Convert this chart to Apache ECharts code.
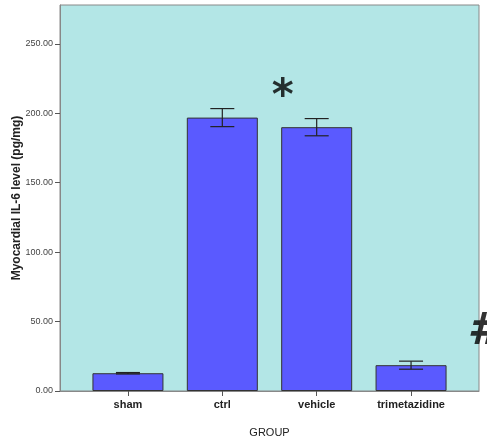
<!DOCTYPE html>
<html><head><meta charset="utf-8">
<script src="https://cdn.jsdelivr.net/npm/echarts@6/dist/echarts.min.js"></script>
<style>html,body{margin:0;padding:0;background:#fff}#c{width:487px;height:443px}</style>
</head><body><div id="c"></div>
<script>
const categories = ['sham', 'ctrl', 'vehicle', 'trimetazidine'];
const means = [12.8, 196.9, 190.0, 18.6];
const errors = [0.5, 6.5, 6.2, 2.9];
const yTicks = [0, 50, 100, 150, 200, 250];
const marks = [
  {text: '*', x: 1.64, y: 211, size: 42, weight: 'bold', style: 'normal'},
  {text: '#', x: 3.76, y: 42, size: 44, weight: 'bold', style: 'italic'}
];

const catIdx = categories.map((c, i) => i);
const chart = echarts.init(document.getElementById('c'));
chart.setOption({
  animation: false,
  grid: {left: 60, right: 8, top: 5, bottom: 52, containLabel: false, outerBoundsMode: 'none', show: true, backgroundColor: '#b3e6e6', borderColor: '#888', borderWidth: 1},
  xAxis: {
    type: 'value', min: -0.72, max: 3.72,
    name: 'GROUP', nameLocation: 'middle', nameGap: 36, nameMoveOverlap: false,
    nameTextStyle: {fontFamily: 'Liberation Sans, Arial', fontSize: 11, color: '#222'},
    splitLine: {show: false},
    axisLine: {show: true, onZero: false, lineStyle: {color: '#888'}},
    axisTick: {show: true, customValues: catIdx, length: 5, lineStyle: {color: '#555'}},
    axisLabel: {customValues: catIdx, formatter: v => categories[Math.round(v)] || '', fontFamily: 'Liberation Sans, Arial', fontWeight: 'bold', fontSize: 11, color: '#222', margin: 8}
  },
  yAxis: {
    type: 'value', min: 0, max: 278,
    name: 'Myocardial IL-6 level (pg/mg)', nameLocation: 'middle', nameGap: 37, nameMoveOverlap: false,
    nameTextStyle: {fontFamily: 'Liberation Sans, Arial', fontWeight: 'bold', fontSize: 12, color: '#222'},
    splitLine: {show: false},
    axisLine: {show: true, onZero: false, lineStyle: {color: '#888'}},
    axisTick: {show: true, customValues: yTicks, length: 5, lineStyle: {color: '#555'}},
    axisLabel: {customValues: yTicks, formatter: v => v.toFixed(2), fontFamily: 'Liberation Sans, Arial', fontSize: 9, color: '#444', margin: 7}
  },
  series: [
    {
      type: 'bar', barWidth: 71,
      data: means.map((m, i) => [i, m]),
      itemStyle: {color: '#5a5aff', borderColor: '#333', borderWidth: 1}
    },
    {
      type: 'custom',
      data: means.map((m, i) => [i, m - errors[i], m + errors[i]]),
      renderItem: (params, api) => {
        const lo = api.coord([api.value(0), api.value(1)]);
        const hi = api.coord([api.value(0), api.value(2)]);
        const hw = 12;
        const st = {stroke: '#222', lineWidth: 1.2};
        return {type: 'group', children: [
          {type: 'line', shape: {x1: lo[0], y1: lo[1], x2: hi[0], y2: hi[1]}, style: st},
          {type: 'line', shape: {x1: lo[0]-hw, y1: lo[1], x2: lo[0]+hw, y2: lo[1]}, style: st},
          {type: 'line', shape: {x1: hi[0]-hw, y1: hi[1], x2: hi[0]+hw, y2: hi[1]}, style: st}
        ]};
      },
      z: 5
    },
    {
      type: 'scatter', symbolSize: 0, clip: false,
      data: marks.map(m => ({value: [m.x, m.y], label: {show: true, formatter: m.text, fontSize: m.size, fontWeight: m.weight, fontStyle: m.style, color: '#000', fontFamily: 'DejaVu Sans, Liberation Sans', position: 'inside', verticalAlign: 'middle', align: 'center'}})),
      z: 10
    }
  ]
});
</script></body></html>
